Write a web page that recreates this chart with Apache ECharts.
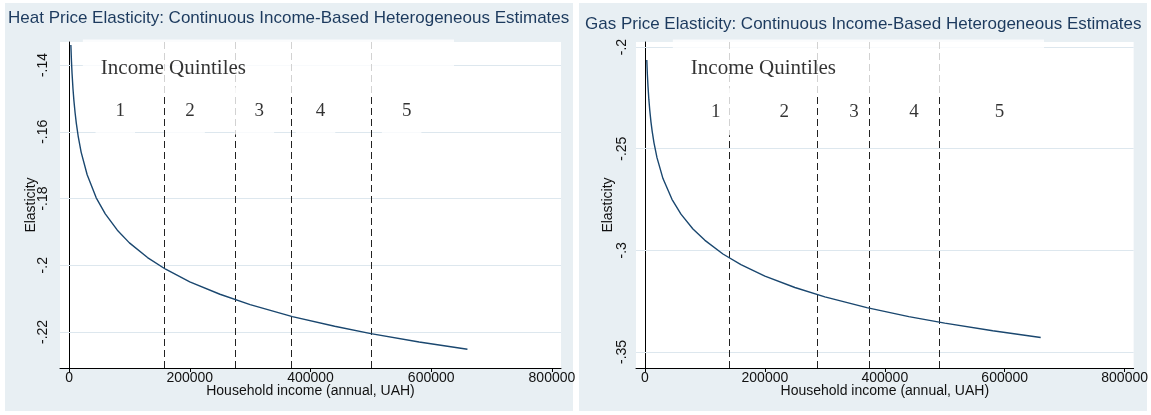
<!DOCTYPE html>
<html>
<head>
<meta charset="utf-8">
<script src="https://cdn.jsdelivr.net/npm/echarts@6/dist/echarts.min.js"></script>
<style>
  html, body { margin: 0; padding: 0; background: #fff; }
  #chart { width: 1151px; height: 415px; }
</style>
</head>
<body>
<div id="chart"></div>
<script>
// household income grid (annual, UAH)
const income = [3000, 4000, 5000, 6500, 8000, 10000, 12000, 15000, 20000, 30000, 45000, 60000,
    80000, 100000, 130000, 160000, 200000, 250000, 300000, 370000, 440000, 500000, 580000, 660000];

// estimated elasticity, heat
const heatElasticity = [-0.1340, -0.1389, -0.1426, -0.1471, -0.1506, -0.1543, -0.1574, -0.1612,
    -0.1661, -0.1729, -0.1798, -0.1846, -0.1895, -0.1933, -0.1977, -0.2012, -0.2050, -0.2087,
    -0.2118, -0.2154, -0.2183, -0.2205, -0.2230, -0.2252];

// estimated elasticity, gas
const gasElasticity = [-0.2064, -0.2137, -0.2193, -0.2260, -0.2312, -0.2369, -0.2415, -0.2471,
    -0.2544, -0.2647, -0.2749, -0.2822, -0.2895, -0.2951, -0.3018, -0.3070, -0.3127, -0.3183,
    -0.3229, -0.3282, -0.3326, -0.3358, -0.3396, -0.3429];

// quintile cut-offs
const heatCutoffs = [158000, 276000, 368000, 500000];
const gasCutoffs = [141000, 288000, 374000, 490000];

const quintiles = ["1", "2", "3", "4", "5"];

// tick labels
const xTicks = [0, 200000, 400000, 600000, 800000];
const heatTicks = [-0.22, -0.2, -0.18, -0.16, -0.14];
const gasTicks = [-0.35, -0.3, -0.25, -0.2];

const titles = [
    "Heat Price Elasticity: Continuous Income-Based Heterogeneous Estimates",
    "Gas Price Elasticity: Continuous Income-Based Heterogeneous Estimates",
];

const navy = "#1a476f";
const axisFont = "Liberation Sans, Arial, sans-serif";
const serif = "Liberation Serif, Times New Roman, serif";

let fmtY = (v) => String(Number(v.toFixed(3))).replace("0.", ".");

let makeX = (gridIndex) => ({
    type: "value",
    gridIndex: gridIndex,
    min: -15000,
    max: 815000,
    name: "Household income (annual, UAH)",
    nameLocation: "middle",
    nameGap: 16,
    nameMoveOverlap: false,
    nameTextStyle: { fontFamily: axisFont, fontSize: 14, color: "#111" },
    axisLine: { lineStyle: { color: "#000", width: 1 } },
    axisTick: { customValues: xTicks, length: 4, lineStyle: { color: "#000" } },
    axisLabel: {
        customValues: xTicks,
        fontFamily: axisFont,
        fontSize: 14,
        color: "#111",
        margin: 3,
        formatter: (v) => String(v),
    },
    splitLine: { show: false },
});

let makeY = (gridIndex, ticks, min, max, margin, gap) => ({
    type: "value",
    gridIndex: gridIndex,
    min: min,
    max: max,
    name: "Elasticity",
    nameLocation: "middle",
    nameGap: gap,
    nameMoveOverlap: false,
    nameTextStyle: { fontFamily: axisFont, fontSize: 14, color: "#111" },
    axisLine: { show: true, lineStyle: { color: "#000", width: 1 } },
    axisTick: { show: true, customValues: ticks, length: 5, lineStyle: { color: "#000" } },
    axisLabel: {
        customValues: ticks,
        rotate: 90,
        fontFamily: axisFont,
        fontSize: 14,
        color: "#111",
        margin: margin,
        formatter: fmtY,
    },
    splitLine: { show: false },
});

// reference lines: horizontal grid + dashed quintile cut-offs
let makeRefSeries = (idx, ticks, cutoffs) => ({
    type: "line",
    xAxisIndex: idx,
    yAxisIndex: idx,
    data: [],
    z: 1,
    silent: true,
    markLine: {
        z: 1,
        silent: true,
        symbol: ["none", "none"],
        label: { show: false },
        animation: false,
        data: ticks
            .map((t) => ({ yAxis: t, lineStyle: { color: "#dde7ee", width: 1, type: "solid" } }))
            .concat(cutoffs.map((c) => ({ xAxis: c, lineStyle: { color: "#222", width: 1, type: [7, 4] } }))),
    },
});

// white-boxed text annotations (anchor = centre of box)
let makeLabels = (idx, head, nums, numY) => ({
    type: "scatter",
    xAxisIndex: idx,
    yAxisIndex: idx,
    symbolSize: 0,
    z: 3,
    silent: true,
    data: [
        {
            value: head,
            label: {
                show: true,
                position: "inside",
                formatter: "Income Quintiles",
                fontFamily: serif,
                fontSize: 21,
                color: "#000",
                backgroundColor: "#fff",
                padding: [12, 208, 24, 18],
            },
        },
    ].concat(
        nums.map((x, i) => ({
            value: [x, numY],
            label: {
                show: true,
                position: "inside",
                formatter: quintiles[i],
                fontFamily: serif,
                fontSize: 19,
                color: "#000",
                backgroundColor: "#fff",
                padding: [10, 10, 18, 20],
            },
        }))
    ),
});

let makeCurve = (idx, values) => ({
    type: "line",
    xAxisIndex: idx,
    yAxisIndex: idx,
    z: 4,
    showSymbol: false,
    symbol: "none",
    data: income.map((x, i) => [x, values[i]]),
    lineStyle: { color: navy, width: 1.4 },
});

let chart = echarts.init(document.getElementById("chart"), null, { renderer: "canvas" });
chart.setOption({
    animation: false,
    backgroundColor: "#fff",
    graphic: [
        { type: "rect", z: -10, shape: { x: 5, y: 3, width: 568, height: 408 }, style: { fill: "#e8eff3" } },
        { type: "rect", z: -10, shape: { x: 579, y: 3, width: 568, height: 408 }, style: { fill: "#e8eff3" } },
    ],
    title: [
        {
            text: titles[0],
            left: 3,
            top: 5,
            textStyle: { fontFamily: axisFont, fontSize: 17, fontWeight: "normal", color: "#1c3a5e" },
        },
        {
            text: titles[1],
            left: 580,
            top: 11,
            textStyle: { fontFamily: axisFont, fontSize: 17, fontWeight: "normal", color: "#1c3a5e" },
        },
    ],
    grid: [
        { left: 60, top: 42, width: 501, height: 326, show: true, backgroundColor: "#fff", borderWidth: 0 },
        { left: 636, top: 42, width: 501, height: 326, show: true, backgroundColor: "#fff", borderWidth: 0 },
    ],
    xAxis: [makeX(0), makeX(1)],
    yAxis: [
        makeY(0, heatTicks, -0.2308, -0.1331, 10, 22),
        makeY(1, gasTicks, -0.3579, -0.1975, 7, 21),
    ],
    series: [
        makeRefSeries(0, heatTicks, heatCutoffs),
        makeRefSeries(1, gasTicks, gasCutoffs),
        makeLabels(0, [330300, -0.1409], [76600, 192200, 307000, 408300, 551000], -0.1538),
        makeLabels(1, [356000, -0.2103], [109500, 224100, 340300, 440200, 583000], -0.2318),
        makeCurve(0, heatElasticity),
        makeCurve(1, gasElasticity),
    ],
});
</script>
</body>
</html>
